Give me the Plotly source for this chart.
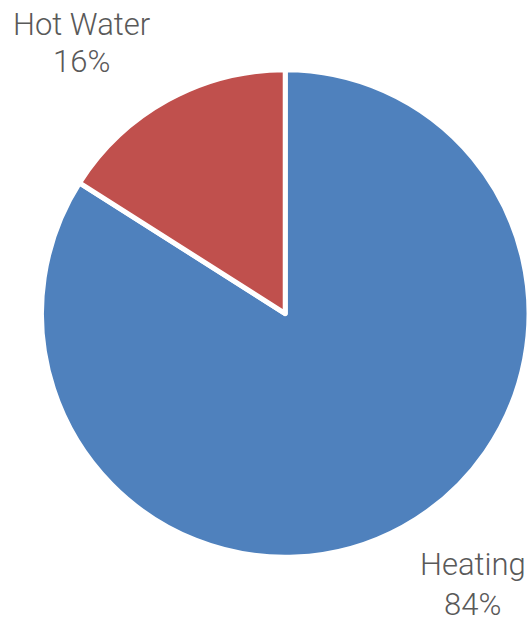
import plotly.graph_objects as go

labels = ["Heating", "Hot Water"]
values = [84, 16]
colors = ["#4F81BD", "#C0504D"]

total = sum(values)
pcts = [f"{round(v / total * 100)}%" for v in values]

fig = go.Figure(go.Pie(
    labels=labels,
    values=values,
    sort=False,
    direction="clockwise",
    rotation=0,
    marker=dict(colors=colors, line=dict(color="white", width=5)),
    textinfo="none",
    hoverinfo="label+percent",
    domain=dict(x=[0.0784, 1.0], y=[0.1055, 0.888]),
    showlegend=False,
))

font = dict(family="Roboto", size=31, color="#595959", weight=300)
# label positions (pixels) for each slice: center x, name line y, percent line y
pos = {"Hot Water": (81.5, 24, 61), "Heating": (472.5, 564, 604)}
ann = []
for lab, p in zip(labels, pcts):
    x, y1, y2 = pos[lab]
    ann.append(dict(x=x / 529, y=1 - y1 / 623, xref="paper", yref="paper",
                    text=lab, showarrow=False, font=font, xanchor="center", yanchor="middle"))
    ann.append(dict(x=x / 529, y=1 - y2 / 623, xref="paper", yref="paper",
                    text=p, showarrow=False, font=font, xanchor="center", yanchor="middle"))

fig.update_layout(
    width=529, height=623,
    margin=dict(l=0, r=0, t=0, b=0),
    paper_bgcolor="white", plot_bgcolor="white",
    annotations=ann,
)

fig.write_html("out.html")
